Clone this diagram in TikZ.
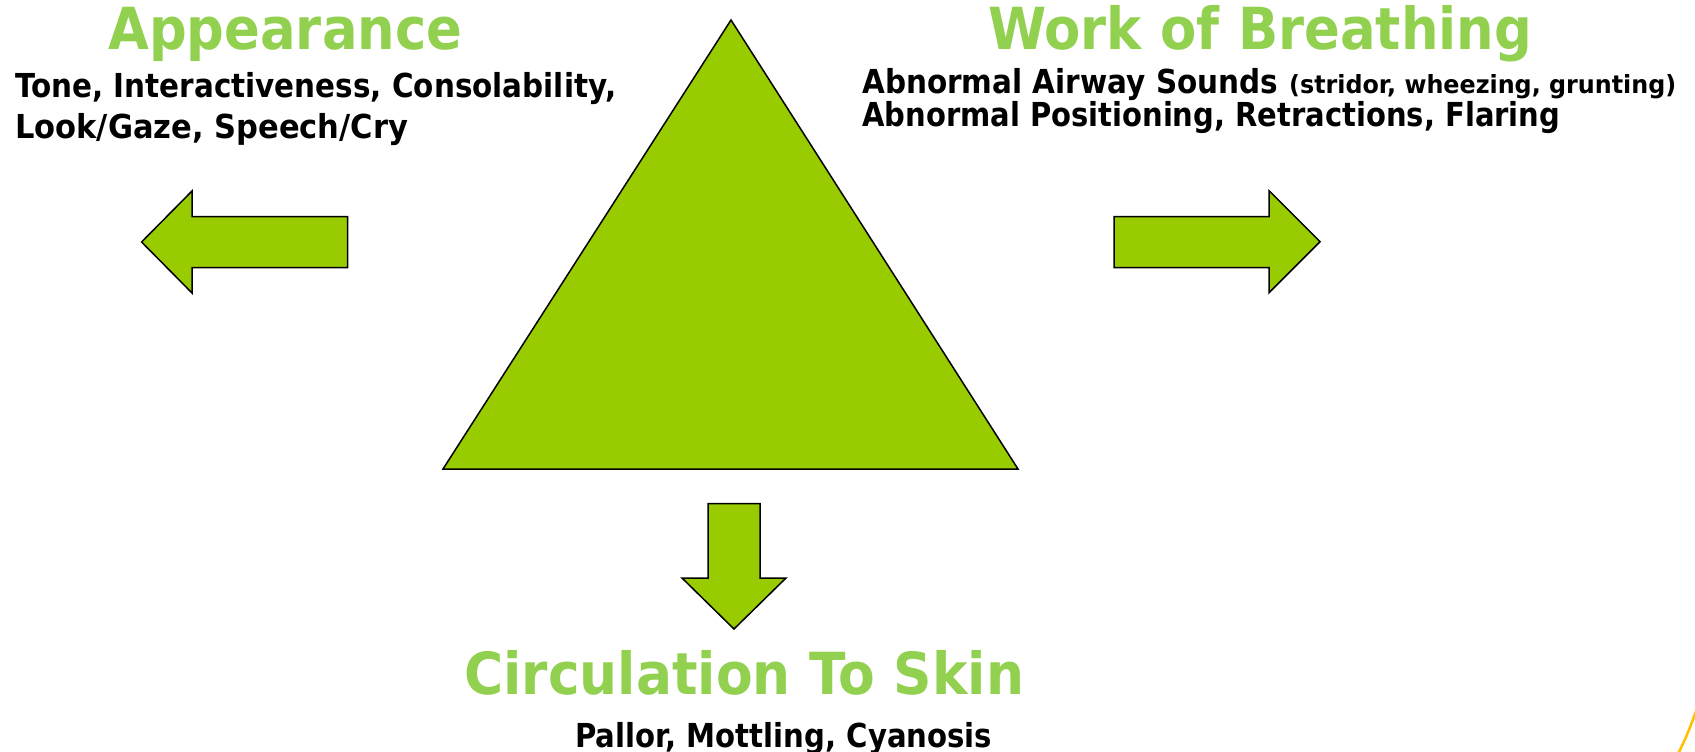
\documentclass[tikz,border=0pt]{standalone}
\usepackage{fontspec}
\setmainfont{DejaVu Sans}
\usepackage{graphicx}
\definecolor{trigreen}{RGB}{153,204,0}
\definecolor{titlegreen}{RGB}{146,208,80}
\definecolor{arcyellow}{RGB}{255,192,0}
\newcommand{\fitw}[2]{\resizebox{#1}{\height}{#2}}
\begin{document}
\begin{tikzpicture}[x=1pt,y=-1pt,
  title/.style={inner sep=0pt, anchor=base west, text=titlegreen, font=\bfseries\fontsize{58}{62}\selectfont},
  body/.style={inner sep=0pt, anchor=base west, font=\bfseries\fontsize{33}{40}\selectfont},
  smallbody/.style={body, font=\bfseries\fontsize{25}{30}\selectfont},
  blockshape/.style={fill=trigreen, draw=black, line width=1.5pt, line join=miter}]
\useasboundingbox (0,0) rectangle (1695,752);
\fill[white] (0,0) rectangle (1695,752);
% triangle
\coordinate (apex) at (731,20);
\coordinate (br) at (1018,469);
\coordinate (bl) at (443,469);
\draw[blockshape] (apex) -- (br) -- (bl) -- cycle;
% left arrow
\draw[blockshape] (141.6,242) -- (192,191) -- (192,216.7) -- (347.7,216.7) -- (347.7,267.7) -- (192,267.7) -- (192,293) -- cycle;
% right arrow
\draw[blockshape] (1114,216.7) -- (1269,216.7) -- (1269,190.7) -- (1320,241.7) -- (1269,292.7) -- (1269,267.7) -- (1114,267.7) -- cycle;
% down arrow
\draw[blockshape] (708,503.5) -- (760,503.5) -- (760,578) -- (786,578) -- (734,629) -- (682,578) -- (708,578) -- cycle;
% yellow arc
\draw[arcyellow, line width=2.5pt] (1697,708) .. controls (1691,726) and (1685,740) .. (1678,754);
% texts
\node[title] (app) at (108,50) {\fitw{354pt}{Appearance}};
\node[body] (app1) at (15,97) {\fitw{601pt}{Tone, Interactiveness, Consolability,}};
\node[body] (app2) at (15,138) {\fitw{393pt}{Look/Gaze, Speech/Cry}};
\node[title] (wob) at (988,50) {\fitw{544pt}{Work of Breathing}};
\node[body] (wob1) at (862,93) {\fitw{416pt}{Abnormal Airway Sounds}};
\node[smallbody] (wob1b) at (1289,93) {\fitw{387pt}{(stridor, wheezing, grunting)}};
\node[body] (wob2) at (862,126.5) {\fitw{698pt}{Abnormal Positioning, Retractions, Flaring}};
\node[title] (circ) at (464,694) {\fitw{560pt}{Circulation To Skin}};
\node[body] (circ1) at (575,747) {\fitw{417pt}{Pallor, Mottling, Cyanosis}};
\end{tikzpicture}
\end{document}
